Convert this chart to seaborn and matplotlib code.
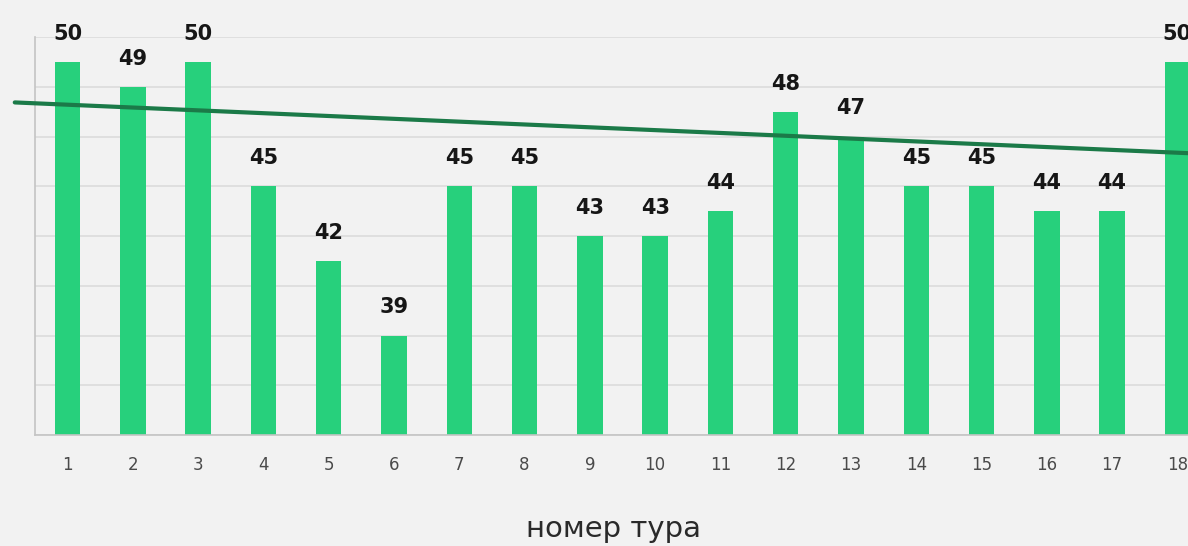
import matplotlib
matplotlib.use("Agg")
import matplotlib.pyplot as plt
import seaborn as sns
import pandas as pd

rounds = [str(i) for i in range(1, 19)]
points = [50, 49, 50, 45, 42, 39, 45, 45, 43, 43, 44, 48, 47, 45, 45, 44, 44, 50]
# trend line end points (round position, points)
trend_x = [-0.81, 17.16]
trend_y = [48.37, 46.33]

bg = "#f2f2f2"
bar_color = "#27d07c"
trend_color = "#1b7a48"

sns.set_theme(style="whitegrid")
plt.rcParams["font.family"] = ["DejaVu Sans"]

fig = plt.figure(figsize=(11.88, 5.46), dpi=100, facecolor=bg)
ax = fig.add_axes([35 / 1188, 1 - 435 / 546, (1210 - 35) / 1188, (435 - 37) / 546])
ax.set_facecolor(bg)

df = pd.DataFrame({"round": rounds, "points": points})
sns.barplot(data=df, x="round", y="points", color=bar_color, width=0.39,
            saturation=1, linewidth=0, edgecolor="none", ax=ax, zorder=2)

ax.set_ylim(35, 51)
ax.set_xlim(-0.5, 17.5)
ax.set_yticks(range(35, 52, 2))
ax.tick_params(axis="y", left=False, labelleft=False)
ax.grid(axis="y", color="#dcdcdc", linewidth=1.2, zorder=0)
ax.grid(axis="x", visible=False)
for side in ["top", "right"]:
    ax.spines[side].set_visible(False)
for side in ["left", "bottom"]:
    ax.spines[side].set_color("#c4c4c4")
    ax.spines[side].set_linewidth(1.2)

ax.tick_params(axis="x", bottom=False, pad=9, labelsize=12, labelcolor="#4a4a4a")

for i, v in enumerate(points):
    ax.annotate(str(v), (i, v), xytext=(0, 13), textcoords="offset points",
                ha="center", va="bottom", fontsize=15, fontweight="heavy",
                color="#161616", annotation_clip=False)

ax.plot(trend_x, trend_y, color=trend_color, linewidth=3, clip_on=False, zorder=3)

ax.set_xlabel("номер тура", fontsize=21, color="#2a2a2a")
ax.xaxis.set_label_coords((614 - 35) / (1210 - 35), -0.20)
ax.set_ylabel("")

fig.savefig("out.png", dpi=100, facecolor=bg)
